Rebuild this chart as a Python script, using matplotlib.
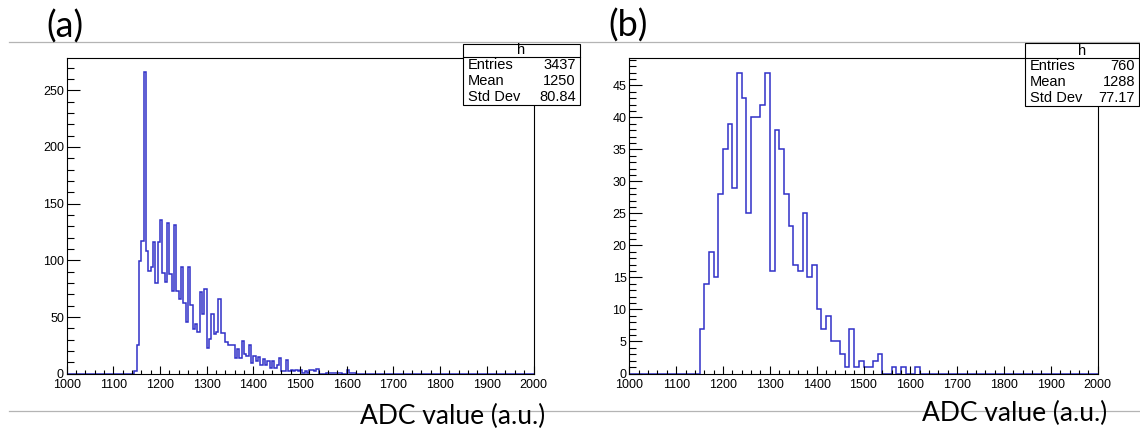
import matplotlib
matplotlib.use("Agg")
import matplotlib.pyplot as plt
import matplotlib.transforms as mtransforms
import numpy as np
from matplotlib.lines import Line2D
from matplotlib.patches import Rectangle
from matplotlib.ticker import MultipleLocator

# panel (a): 5-wide bins starting at 1145
a_start = 1145
a_counts = [2, 25, 99, 117, 266, 108, 91, 94, 116, 80, 116, 136, 89, 81, 133,
            88, 73, 131, 73, 66, 94, 62, 46, 94, 61, 39, 44, 37, 72, 53, 75,
            23, 31, 53, 35, 37, 66, 36, 36, 28, 25, 25, 25, 14, 22, 14, 29,
            17, 16, 25, 9, 16, 11, 15, 8, 13, 8, 11, 5, 11, 5, 8, 14, 2, 2,
            12, 2, 3, 2, 3, 2, 3, 1, 2, 1, 3, 3, 2, 4, 0, 0, 0, 1, 1, 1, 1,
            1, 1, 1, 0, 0, 3, 1, 1, 1]
a_stats = ["3437", "1250", "80.84"]

# panel (b): 10-wide bins starting at 1150
b_start = 1150
b_counts = [7, 14, 19, 15, 28, 35, 39, 29, 47, 43, 25, 40, 40, 42, 47, 16, 38,
            35, 28, 23, 17, 16, 25, 15, 17, 10, 7, 9, 5, 5, 3, 1, 7, 1, 2, 1,
            1, 2, 3, 0, 0, 1, 0, 1, 0, 0, 1]
b_stats = ["760", "1288", "77.17"]

stat_names = ["Entries", "Mean", "Std Dev"]
xlabel = "ADC value (a.u.)"

W, H = 1140, 430
fig = plt.figure(figsize=(W / 100, H / 100), dpi=100)


def fx(px):
    return px / W


def fy(py):
    return 1 - py / H


def full_hist(start, counts, width):
    edges = np.arange(1000, 2000 + width, width)
    vals = np.zeros(len(edges) - 1)
    i0 = (start - 1000) // width
    vals[i0:i0 + len(counts)] = counts
    return edges, vals


def make_panel(left, right, top, bottom, start, counts, width, ymax, ymaj, ymin):
    ax = fig.add_axes([fx(left), fy(bottom), fx(right) - fx(left), fy(top) - fy(bottom)])
    edges, vals = full_hist(start, counts, width)
    ax.stairs(vals, edges, color="#3030c8", lw=1.1)
    ax.set_xlim(1000, 2000)
    ax.set_ylim(0, ymax)
    ax.xaxis.set_major_locator(MultipleLocator(100))
    ax.xaxis.set_minor_locator(MultipleLocator(20))
    ax.yaxis.set_major_locator(MultipleLocator(ymaj))
    ax.yaxis.set_minor_locator(MultipleLocator(ymin))
    ax.tick_params(axis="x", which="major", direction="in", length=5.8, width=0.8,
                   labelsize=9, pad=4)
    ax.tick_params(axis="x", which="minor", direction="in", length=2.9, width=0.8)
    ax.tick_params(axis="y", which="major", direction="in", length=9.7, width=0.8,
                   labelsize=9, pad=2)
    ax.tick_params(axis="y", which="minor", direction="in", length=4.9, width=0.8)
    for lab in ax.get_xticklabels() + ax.get_yticklabels():
        lab.set_family("Liberation Sans")
    for s in ax.spines.values():
        s.set_linewidth(0.8)
    return ax


ax_a = make_panel(66.7, 533.5, 58, 373.7, a_start, a_counts, 5, 278.5, 50, 10)
ax_b = make_panel(629.3, 1097.7, 57.5, 373.5, b_start, b_counts, 10, 49.35, 5, 1)

# nudge each "0" label up a little so it clears the first x label
fig.canvas.draw()
for ax in (ax_a, ax_b):
    zero_lab = ax.yaxis.get_major_ticks()[0].label1
    zero_lab.set_transform(zero_lab.get_transform() +
                           mtransforms.ScaledTranslation(0, 3 / 100, fig.dpi_scale_trans))

# slide separator lines
for py in (41.5, 411):
    fig.add_artist(Line2D([fx(9), fx(1140)], [fy(py), fy(py)], color="#b4b4b4", lw=0.9))

# panel letters and axis titles
fig.text(fx(65), fy(27), "(a)", family="Lato", fontsize=26, ha="center", va="center")
fig.text(fx(628), fy(26), "(b)", family="Lato", fontsize=26, ha="center", va="center")
fig.text(fx(453), fy(416), xlabel, family="Lato", fontsize=19, ha="center", va="center")
fig.text(fx(1015), fy(413), xlabel, family="Lato", fontsize=19, ha="center", va="center")


def stats_box(x0, x1, y0, y1, yhead, vals):
    fig.add_artist(Rectangle((fx(x0), fy(y1)), fx(x1) - fx(x0), fy(y0) - fy(y1),
                             transform=fig.transFigure, facecolor="white",
                             edgecolor="black", lw=0.8, zorder=5))
    fig.add_artist(Line2D([fx(x0), fx(x1)], [fy(yhead), fy(yhead)], color="black",
                          lw=0.8, zorder=6))
    fig.text(fx((x0 + x1) / 2), fy((y0 + yhead) / 2), "h", family="Liberation Sans",
             fontsize=10.5, ha="center", va="center", zorder=7)
    row_h = (y1 - yhead) / 3
    for i, (name, v) in enumerate(zip(stat_names, vals)):
        yc = yhead + row_h * (i + 0.5)
        fig.text(fx(x0 + 5), fy(yc), name, family="Liberation Sans", fontsize=10.5,
                 ha="left", va="center", zorder=7)
        fig.text(fx(x1 - 4), fy(yc), v, family="Liberation Sans", fontsize=10.5,
                 ha="right", va="center", zorder=7)


stats_box(463, 580, 44, 105, 57, a_stats)
stats_box(1025, 1139, 43.5, 106, 58.3, b_stats)

fig.savefig("out.png", dpi=100)
